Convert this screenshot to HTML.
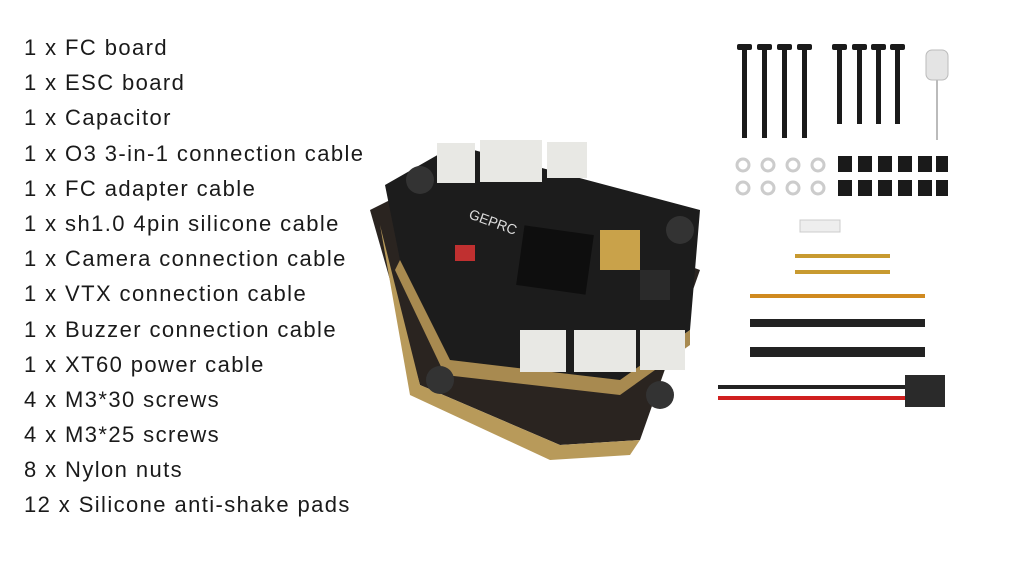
<!DOCTYPE html>
<html><head><meta charset="utf-8"><style>
body{margin:0;width:1024px;height:561px;background:#fff;overflow:hidden;position:relative;font-family:"Liberation Sans",sans-serif}
.l{position:absolute;left:24px;font-size:22px;color:#1a1a1a;letter-spacing:1.4px;white-space:nowrap}
svg{position:absolute;left:0;top:0}
</style></head><body>
<div class="l" style="top:35px">1 x FC board</div>
<div class="l" style="top:70px">1 x ESC board</div>
<div class="l" style="top:105px">1 x Capacitor</div>
<div class="l" style="top:141px">1 x O3 3-in-1 connection cable</div>
<div class="l" style="top:176px">1 x FC adapter cable</div>
<div class="l" style="top:211px">1 x sh1.0 4pin silicone cable</div>
<div class="l" style="top:246px">1 x Camera connection cable</div>
<div class="l" style="top:281px">1 x VTX connection cable</div>
<div class="l" style="top:317px">1 x Buzzer connection cable</div>
<div class="l" style="top:352px">1 x XT60 power cable</div>
<div class="l" style="top:387px">4 x M3*30 screws</div>
<div class="l" style="top:422px">4 x M3*25 screws</div>
<div class="l" style="top:457px">8 x Nylon nuts</div>
<div class="l" style="top:492px">12 x Silicone anti-shake pads</div>
<svg width="1024" height="561">
<polygon points="370,210 440,175 700,270 640,440 560,445 420,385" fill="#2a2420"/>
<polygon points="380,225 420,385 560,445 640,440 630,455 550,460 410,395" fill="#b89a5a"/>
<polygon points="385,185 455,145 700,210 690,330 620,380 450,360 400,260" fill="#1c1c1c"/>
<polygon points="400,260 450,360 620,380 690,330 690,345 620,395 445,375 395,270" fill="#a88a50"/>
<circle cx="420" cy="180" r="14" fill="#333"/><circle cx="680" cy="230" r="14" fill="#333"/>
<circle cx="440" cy="380" r="14" fill="#333"/><circle cx="660" cy="395" r="14" fill="#333"/>
<rect x="437" y="143" width="38" height="40" fill="#e8e8e4"/>
<rect x="480" y="140" width="62" height="42" fill="#e8e8e4"/>
<rect x="547" y="142" width="40" height="36" fill="#e8e8e4"/>
<rect x="520" y="330" width="46" height="42" fill="#e8e8e4"/>
<rect x="574" y="330" width="62" height="42" fill="#e8e8e4"/>
<rect x="640" y="330" width="45" height="40" fill="#e8e8e4"/>
<rect x="520" y="230" width="70" height="60" fill="#0e0e0e" transform="rotate(8 555 260)"/>
<rect x="600" y="230" width="40" height="40" fill="#c9a24a"/>
<rect x="640" y="270" width="30" height="30" fill="#2a2a2a"/>
<rect x="455" y="245" width="20" height="16" fill="#c03030"/>
<text x="468" y="218" font-size="14" fill="#ddd" font-family="Liberation Sans" transform="rotate(20 468 218)">GEPRC</text>
<g fill="#1a1a1a">
<rect x="742" y="48" width="5" height="90"/><rect x="737" y="44" width="15" height="6" rx="2"/>
<rect x="762" y="48" width="5" height="90"/><rect x="757" y="44" width="15" height="6" rx="2"/>
<rect x="782" y="48" width="5" height="90"/><rect x="777" y="44" width="15" height="6" rx="2"/>
<rect x="802" y="48" width="5" height="90"/><rect x="797" y="44" width="15" height="6" rx="2"/>
<rect x="837" y="48" width="5" height="76"/><rect x="832" y="44" width="15" height="6" rx="2"/>
<rect x="857" y="48" width="5" height="76"/><rect x="852" y="44" width="15" height="6" rx="2"/>
<rect x="876" y="48" width="5" height="76"/><rect x="871" y="44" width="15" height="6" rx="2"/>
<rect x="895" y="48" width="5" height="76"/><rect x="890" y="44" width="15" height="6" rx="2"/>
</g>
<rect x="926" y="50" width="22" height="30" rx="6" fill="#e4e4e4" stroke="#bbb"/>
<line x1="937" y1="80" x2="937" y2="140" stroke="#bbb" stroke-width="2"/>
<g fill="none" stroke="#ccc" stroke-width="3">
<circle cx="743" cy="165" r="6"/><circle cx="768" cy="165" r="6"/><circle cx="793" cy="165" r="6"/><circle cx="818" cy="165" r="6"/>
<circle cx="743" cy="188" r="6"/><circle cx="768" cy="188" r="6"/><circle cx="793" cy="188" r="6"/><circle cx="818" cy="188" r="6"/>
</g>
<g fill="#1a1a1a">
<rect x="838" y="156" width="14" height="16"/><rect x="858" y="156" width="14" height="16"/><rect x="878" y="156" width="14" height="16"/><rect x="898" y="156" width="14" height="16"/><rect x="918" y="156" width="14" height="16"/><rect x="936" y="156" width="12" height="16"/>
<rect x="838" y="180" width="14" height="16"/><rect x="858" y="180" width="14" height="16"/><rect x="878" y="180" width="14" height="16"/><rect x="898" y="180" width="14" height="16"/><rect x="918" y="180" width="14" height="16"/><rect x="936" y="180" width="12" height="16"/>
</g>
<rect x="800" y="220" width="40" height="12" fill="#eee" stroke="#ccc"/>
<line x1="795" y1="256" x2="890" y2="256" stroke="#c89a30" stroke-width="4"/>
<line x1="795" y1="272" x2="890" y2="272" stroke="#c89a30" stroke-width="4"/>
<line x1="750" y1="296" x2="925" y2="296" stroke="#d08a20" stroke-width="4"/>
<line x1="750" y1="323" x2="925" y2="323" stroke="#222" stroke-width="8"/>
<line x1="750" y1="352" x2="925" y2="352" stroke="#222" stroke-width="10"/>
<line x1="718" y1="387" x2="905" y2="387" stroke="#222" stroke-width="4"/>
<line x1="718" y1="398" x2="905" y2="398" stroke="#d02020" stroke-width="4"/>
<rect x="905" y="375" width="40" height="32" fill="#2a2a2a"/>
</svg>
</body></html>
